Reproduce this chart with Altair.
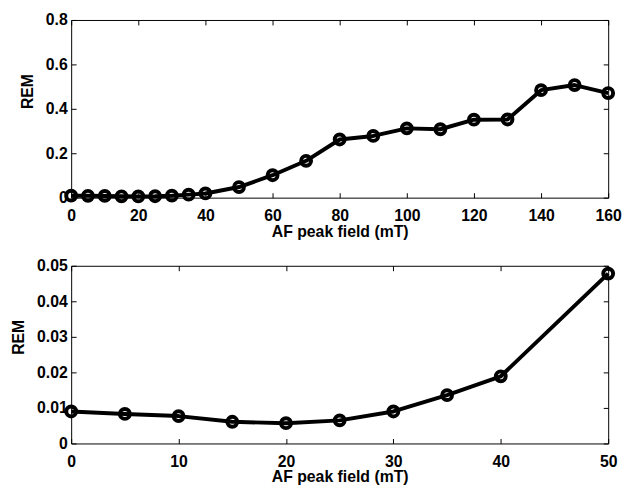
import altair as alt
import pandas as pd

# AF peak field (mT) and remanence values
fields = [0, 5, 10, 15, 20, 25, 30, 35, 40, 50, 60, 70, 80, 90, 100, 110, 120, 130, 140, 150, 160]
rem = [0.0090, 0.0083, 0.0077, 0.0061, 0.0057, 0.0065, 0.0090, 0.0136, 0.0189, 0.0478,
       0.101, 0.166, 0.262, 0.278, 0.312, 0.308, 0.351, 0.352, 0.484, 0.507, 0.471]

top_xticks = [0, 20, 40, 60, 80, 100, 120, 140, 160]
top_yticks = [0, 0.2, 0.4, 0.6, 0.8]
bot_xticks = [0, 10, 20, 30, 40, 50]
bot_yticks = [0, 0.01, 0.02, 0.03, 0.04, 0.05]

df = pd.DataFrame({"field": fields, "rem": rem})
df_low = df[df["field"] <= 50]

FONT = "Liberation Sans"
W, H = 544, 180


def lab_axis(orient, values, title, title_y=None):
    kw = dict(
        orient=orient, values=values, offset=-5, tickSize=5, tickColor="black", tickWidth=1,
        domain=False, grid=False, format="~r",
        labelFont=FONT, labelFontSize=16, labelFontWeight="bold", labelColor="black",
        labelFlush=False, labelOverlap=False, labelBound=False,
        title=title, titleFont=FONT, titleFontSize=16, titleFontWeight="bold", titleColor="black",
    )
    if orient == "bottom":
        kw.update(labelPadding=10, titlePadding=0)
    else:
        kw.update(labelPadding=4, titlePadding=10)
    if title_y is not None:
        kw["titleY"] = title_y
    return alt.Axis(**kw)


def tick_axis(orient, values):
    return alt.Axis(orient=orient, values=values, offset=-5, tickSize=5, tickColor="black",
                    tickWidth=1, domain=False, grid=False, labels=False, title=None)


def panel(data, xdom, ydom, xt, yt):
    xs = alt.Scale(domain=xdom, nice=False, zero=False)
    ys = alt.Scale(domain=ydom, nice=False, zero=False)
    line = alt.Chart(data).mark_line(color="black", strokeWidth=4, strokeJoin="round").encode(
        x=alt.X("field:Q", scale=xs, axis=lab_axis("bottom", xt, "AF peak field (mT)")),
        y=alt.Y("rem:Q", scale=ys, axis=lab_axis("left", yt, "REM", title_y=72)),
    )
    pts = alt.Chart(data).mark_point(shape="circle", filled=False, color="black",
                                     size=100, strokeWidth=4, opacity=1).encode(
        x=alt.X("field:Q", scale=xs, axis=tick_axis("top", xt)),
        y=alt.Y("rem:Q", scale=ys, axis=tick_axis("right", yt)),
    )
    return alt.layer(line, pts).resolve_axis(x="independent", y="independent").properties(
        width=W, height=H)


top = panel(df, [0, 160], [0, 0.8], top_xticks, top_yticks)
bot = panel(df_low, [0, 50], [0, 0.05], bot_xticks, bot_yticks)

chart = alt.vconcat(top, bot, spacing=17).properties(
    padding={"left": 2, "top": 0, "right": 0, "bottom": 0},
    background="white",
).configure_view(stroke="black", strokeWidth=1)

chart.save("out.html", embed_options={"renderer": "svg", "actions": False})
